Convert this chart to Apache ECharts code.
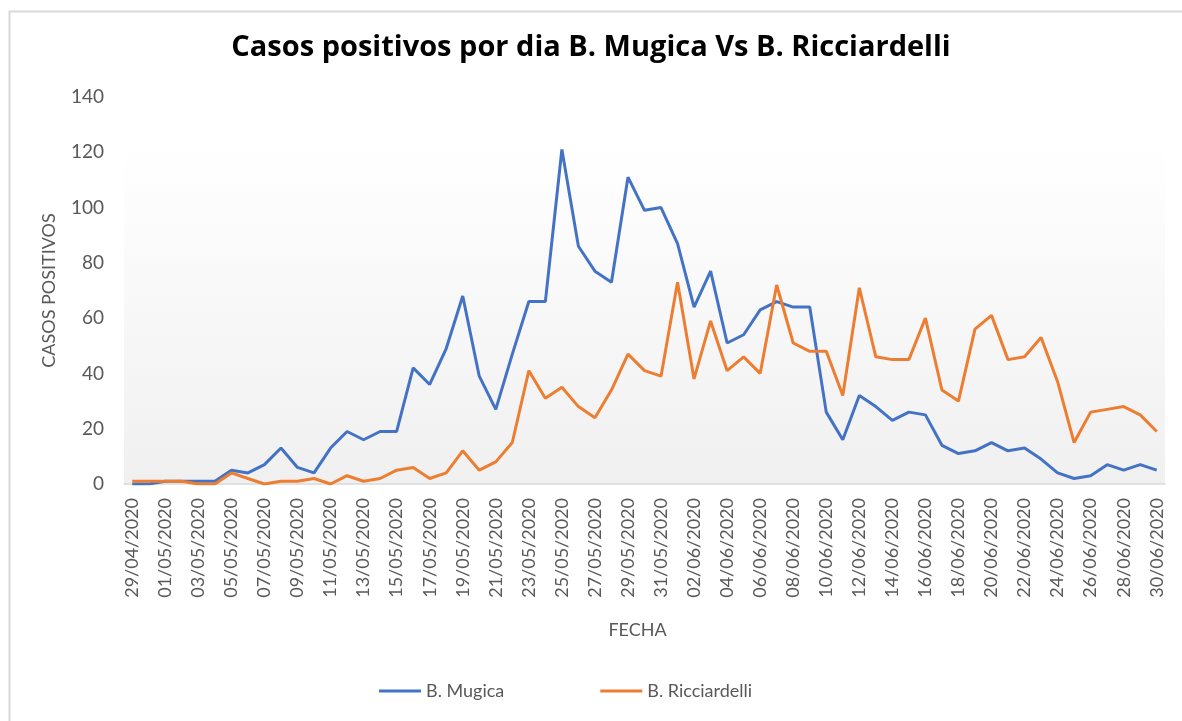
<!DOCTYPE html>
<html>
<head>
<meta charset="utf-8">
<script src="https://cdn.jsdelivr.net/npm/echarts@6/dist/echarts.min.js"></script>
<style>
  html, body { margin: 0; padding: 0; background: #fff; }
  #chart { width: 1182px; height: 721px; }
</style>
</head>
<body>
<div id="chart"></div>
<script>
// fechas 29/04/2020 .. 30/06/2020
const fechas = [
  '29/04/2020', '30/04/2020',
  '01/05/2020', '02/05/2020', '03/05/2020', '04/05/2020', '05/05/2020', '06/05/2020', '07/05/2020',
  '08/05/2020', '09/05/2020', '10/05/2020', '11/05/2020', '12/05/2020', '13/05/2020', '14/05/2020',
  '15/05/2020', '16/05/2020', '17/05/2020', '18/05/2020', '19/05/2020', '20/05/2020', '21/05/2020',
  '22/05/2020', '23/05/2020', '24/05/2020', '25/05/2020', '26/05/2020', '27/05/2020', '28/05/2020',
  '29/05/2020', '30/05/2020', '31/05/2020',
  '01/06/2020', '02/06/2020', '03/06/2020', '04/06/2020', '05/06/2020', '06/06/2020', '07/06/2020',
  '08/06/2020', '09/06/2020', '10/06/2020', '11/06/2020', '12/06/2020', '13/06/2020', '14/06/2020',
  '15/06/2020', '16/06/2020', '17/06/2020', '18/06/2020', '19/06/2020', '20/06/2020', '21/06/2020',
  '22/06/2020', '23/06/2020', '24/06/2020', '25/06/2020', '26/06/2020', '27/06/2020', '28/06/2020',
  '29/06/2020', '30/06/2020'
];

const mugica = [
  0, 0, 1, 1, 1, 1, 5, 4, 7, 13, 6, 4, 13, 19, 16, 19, 19, 42, 36, 49,
  68, 39, 27, 47, 66, 66, 121, 86, 77, 73, 111, 99, 100, 87, 64, 77, 51, 54, 63, 66,
  64, 64, 26, 16, 32, 28, 23, 26, 25, 14, 11, 12, 15, 12, 13, 9, 4, 2, 3, 7,
  5, 7, 5
];

const ricciardelli = [
  1, 1, 1, 1, 0, 0, 4, 2, 0, 1, 1, 2, 0, 3, 1, 2, 5, 6, 2, 4,
  12, 5, 8, 15, 41, 31, 35, 28, 24, 34, 47, 41, 39, 73, 38, 59, 41, 46, 40, 72,
  51, 48, 48, 32, 71, 46, 45, 45, 60, 34, 30, 56, 61, 45, 46, 53, 37, 15, 26, 27,
  28, 25, 19
];

const textColor = '#595959';
const fontFam = 'Lato, "Noto Sans", sans-serif';

const chart = echarts.init(document.getElementById('chart'));

chart.setOption({
  backgroundColor: '#fff',
  animation: false,
  color: ['#4472C4', '#ED7D31'],
  title: {
    text: 'Casos positivos por dia B. Mugica Vs B. Ricciardelli',
    left: 'center',
    top: 28,
    textStyle: {
      fontFamily: '"Open Sans", Lato, sans-serif',
      fontWeight: 'bold',
      fontSize: 29,
      color: '#000'
    }
  },
  graphic: [{
    type: 'rect',
    left: 7,
    top: 9,
    shape: { width: 1200, height: 800 },
    style: { fill: 'none', stroke: '#d9d9d9', lineWidth: 2 },
    silent: true
  }],
  legend: {
    bottom: 16,
    left: 374,
    itemWidth: 42,
    itemHeight: 3,
    itemGap: 96,
    icon: 'rect',
    textStyle: { fontFamily: fontFam, fontSize: 18, color: textColor },
    data: ['B. Mugica', 'B. Ricciardelli']
  },
  grid: {
    left: 124,
    right: 17,
    top: 97,
    bottom: 237,
    show: true,
    borderWidth: 0,
    backgroundColor: {
      type: 'linear', x: 0, y: 0, x2: 0, y2: 1,
      colorStops: [
        { offset: 0, color: '#ffffff' },
        { offset: 0.12, color: '#ffffff' },
        { offset: 1, color: '#f0f0f0' }
      ]
    }
  },
  xAxis: {
    type: 'category',
    data: fechas,
    boundaryGap: true,
    name: 'FECHA',
    nameLocation: 'middle',
    nameGap: 137,
    nameTextStyle: { fontFamily: fontFam, fontSize: 18, color: textColor, padding: [0, 14, 0, 0] },
    axisLine: { lineStyle: { color: '#d9d9d9', width: 1.5 } },
    axisTick: { show: false },
    axisLabel: {
      interval: 1,
      rotate: 90,
      margin: 14,
      fontFamily: fontFam,
      fontSize: 18,
      color: textColor
    }
  },
  yAxis: {
    type: 'value',
    min: 0,
    max: 140,
    interval: 20,
    name: 'CASOS POSITIVOS',
    nameLocation: 'middle',
    nameGap: 66,
    nameTextStyle: { fontFamily: fontFam, fontSize: 18, color: textColor },
    axisLine: { show: false },
    axisTick: { show: false },
    splitLine: { show: false },
    axisLabel: {
      margin: 20,
      fontFamily: fontFam,
      fontSize: 19,
      color: textColor
    }
  },
  series: [
    {
      name: 'B. Mugica',
      type: 'line',
      data: mugica,
      showSymbol: false,
      lineStyle: { width: 3 },
      z: 2
    },
    {
      name: 'B. Ricciardelli',
      type: 'line',
      data: ricciardelli,
      showSymbol: false,
      lineStyle: { width: 3 },
      z: 3
    }
  ]
});
</script>
</body>
</html>
